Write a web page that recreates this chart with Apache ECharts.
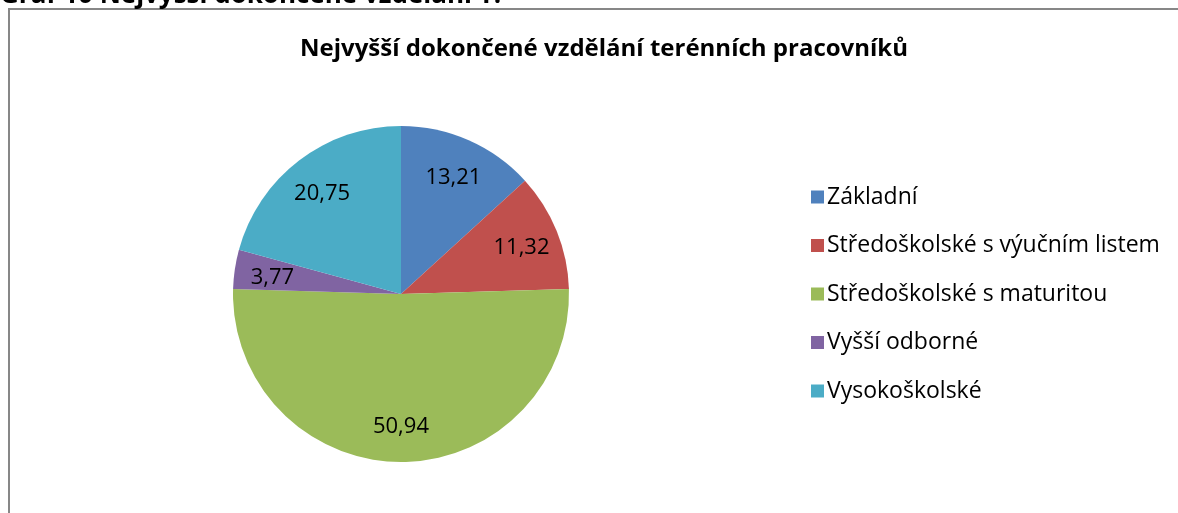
<!DOCTYPE html>
<html>
<head>
<meta charset="utf-8">
<script src="https://cdn.jsdelivr.net/npm/echarts@6/dist/echarts.min.js"></script>
<style>
html, body { margin: 0; padding: 0; background: #fff; }
#chart { width: 1178px; height: 513px; }
</style>
</head>
<body>
<div id="chart"></div>
<script>
var categories = ['Základní', 'Středoškolské s výučním listem', 'Středoškolské s maturitou', 'Vyšší odborné', 'Vysokoškolské'];
var values = [13.21, 11.32, 50.94, 3.77, 20.75];
var colors = ['#4F81BD', '#C0504D', '#9BBB59', '#8064A2', '#4BACC6'];

var font = '"Open Sans", sans-serif';
var dom = document.getElementById('chart');
var myChart = echarts.init(dom);

function fmt(v) {
    return v.toFixed(2).replace('.', ',');
}

var pieData = categories.map(function (name, i) {
    return { name: name, value: values[i], itemStyle: { color: colors[i] } };
});

// ghost pie only carries the labels further out than 'inside' would
var labelData = categories.map(function (name, i) {
    return { name: name, value: values[i] };
});

var legendSize = 23;

var option = {
    backgroundColor: '#fff',
    animation: false,
    title: {
        text: 'Nejvyšší dokončené vzdělání terénních pracovníků',
        left: 599,
        textAlign: 'center',
        top: 32,
        textStyle: {
            fontFamily: font,
            fontWeight: 'bold',
            fontSize: 24,
            color: '#000'
        }
    },
    graphic: [
        {
            type: 'rect',
            shape: { x: 9, y: 9, width: 1200, height: 600 },
            style: { fill: 'none', stroke: '#878787', lineWidth: 2 },
            silent: true
        },
        {
            type: 'text',
            left: 0,
            top: -17,
            style: {
                text: 'Graf 10 Nejvyšší dokončené vzdělání T.',
                font: 'bold 26px ' + font,
                fill: '#000'
            },
            silent: true
        }
    ],
    legend: {
        orient: 'vertical',
        left: 806,
        top: 196 - legendSize / 2 - 4,
        itemWidth: 13,
        itemHeight: 13,
        itemGap: 48.5 - legendSize,
        icon: 'rect',
        data: categories,
        textStyle: {
            fontFamily: font,
            fontSize: legendSize,
            color: '#000',
            padding: [0, 0, 0, -2]
        }
    },
    series: [
        {
            type: 'pie',
            center: [401, 294],
            radius: [0, 168],
            startAngle: 90,
            clockwise: true,
            data: pieData,
            label: { show: false },
            labelLine: { show: false },
            emphasis: { disabled: true }
        },
        {
            type: 'pie',
            center: [401, 294],
            radius: [0, 254],
            startAngle: 90,
            clockwise: true,
            silent: true,
            data: labelData,
            itemStyle: { color: 'rgba(0,0,0,0)' },
            label: {
                show: true,
                position: 'inside',
                offset: [0, 3],
                fontFamily: font,
                fontSize: 22,
                color: '#000',
                formatter: function (p) { return fmt(p.value); }
            },
            labelLine: { show: false },
            emphasis: { disabled: true }
        }
    ]
};

myChart.setOption(option);
</script>
</body>
</html>
